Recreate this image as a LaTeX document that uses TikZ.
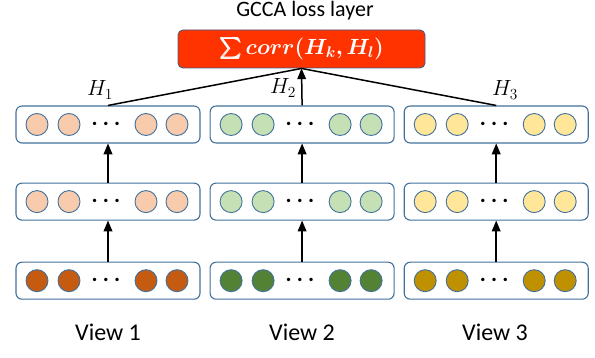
\RequirePackage{fix-cm}
\documentclass[tikz,border=0pt]{standalone}
\usepackage{amsmath}
\usepackage{bm}
\usepackage{fontspec}
\setmainfont{Carlito}
\usepackage{xcolor}
\usepackage{tikz}
\usetikzlibrary{shapes,arrows}
\usetikzlibrary{positioning}
\definecolor{boxline}{RGB}{65,113,156}
\definecolor{lossline}{RGB}{70,90,130}
\definecolor{lossred}{RGB}{255,51,0}
\definecolor{orglight}{RGB}{248,203,173}
\definecolor{orgdark}{RGB}{197,90,17}
\definecolor{grnlight}{RGB}{197,224,180}
\definecolor{grndark}{RGB}{84,130,53}
\definecolor{ylwlight}{RGB}{255,230,153}
\definecolor{ylwdark}{RGB}{191,144,0}
\tikzstyle{layer} = [rectangle, draw=boxline, line width=1.1pt, fill=white,
    rounded corners=6pt, minimum width=184pt, minimum height=37pt, inner sep=0pt]
\tikzstyle{unit} = [circle, draw=boxline, line width=0.9pt,
    minimum size=22pt, inner sep=0pt]
\tikzstyle{loss} = [rectangle, draw=lossline, fill=lossred, line width=0.9pt,
    rounded corners=5pt, minimum width=247pt, minimum height=38pt, text=white,
    inner sep=0pt, font=\fontsize{22}{26}\selectfont]
\tikzstyle{line} = [draw, line width=1.5pt, -triangle 45]
\tikzstyle{edge} = [draw, line width=1.5pt, -]
\tikzstyle{caption} = [font=\fontsize{24}{28}\selectfont]
\tikzstyle{hlabel} = [font=\fontsize{22}{26}\selectfont]

\begin{document}
\begin{tikzpicture}[x=1pt, y=-1pt]
  \useasboundingbox (0,0) rectangle (595,358);
  % Place layers
  \node [layer] (v1c) at (108,124.5) {};
  \node [layer, right=9pt of v1c] (v2c) {};
  \node [layer, right=9pt of v2c] (v3c) {};
  \node [layer, below=39pt of v1c] (v1b) {};
  \node [layer, below=39pt of v2c] (v2b) {};
  \node [layer, below=39pt of v3c] (v3b) {};
  \node [layer, below=41pt of v1b] (v1a) {};
  \node [layer, below=41pt of v2b] (v2a) {};
  \node [layer, below=41pt of v3b] (v3a) {};

  % Units in each layer
  \foreach \lay/\col in {v1a/orgdark, v1b/orglight, v1c/orglight,
                         v2a/grndark, v2b/grnlight, v2c/grnlight,
                         v3a/ylwdark, v3b/ylwlight, v3c/ylwlight} {
    \foreach \dx/\k in {-71/1, -39/2, 38/3, 69/4}
      \node [unit, fill=\col] (\lay-\k) at ([xshift=\dx pt]\lay.center) {};
    \node [font=\fontsize{22}{26}\selectfont] (\lay-dots) at (\lay.center) {$\bm{\cdots}$};
  }

  % Loss layer
  \node [loss] (loss) at (301.5,49) {$\bm{\sum corr(H_k, H_l)}$};
  \node [font=\fontsize{22}{26}\selectfont, inner sep=0pt] (title) at (305,11) {GCCA loss layer};

  \node [hlabel] (h1) at (100,90) {$H_1$};
  \node [hlabel] (h2) at (283,88) {$H_2$};
  \node [hlabel] (h3) at (505,90) {$H_3$};

  \path [edge] (v1c.north) -- (loss.south);
  \path [edge] (v3c.north) -- (loss.south);
  \path [line] (v2c.north) -- (loss.south);

  \path [line] (v1a) -- (v1b);
  \path [line] (v1b) -- (v1c);
  \path [line] (v2a) -- (v2b);
  \path [line] (v2b) -- (v2c);
  \path [line] (v3a) -- (v3b);
  \path [line] (v3b) -- (v3c);

  \node [caption] (view1) at (108,332) {View 1};
  \node [caption] (view2) at (302,332) {View 2};
  \node [caption] (view3) at (495,332) {View 3};
\end{tikzpicture}
\end{document}
